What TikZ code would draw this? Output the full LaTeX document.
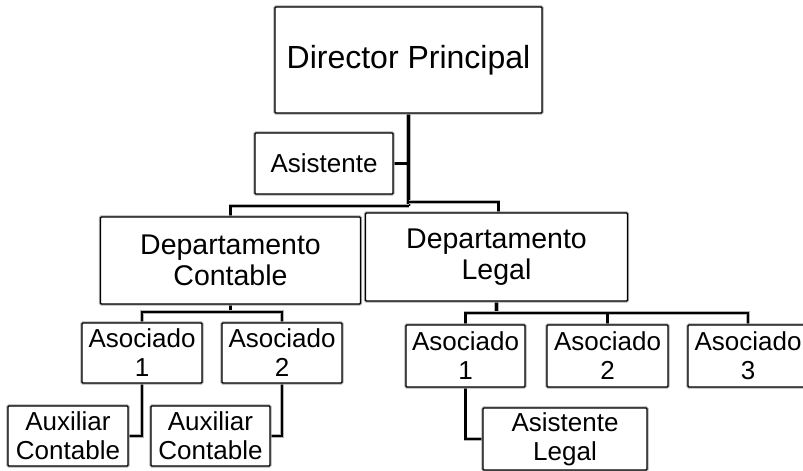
\documentclass[tikz,border=0pt]{standalone}
\usepackage{fontspec}
\setmainfont{Liberation Sans}
\usetikzlibrary{backgrounds}
\tikzset{
  box/.style={draw=black, line width=1.2pt, fill=white, rounded corners=1pt,
    align=center, inner sep=0pt, font=\fontsize{26}{29}\selectfont,
    preaction={draw=gray!65, line width=3.2pt}},
  conn/.style={draw=black, line width=2.1pt, preaction={draw=gray!60, line width=3.3pt}},
  trunk/.style={draw=black, line width=3.2pt, preaction={draw=gray!60, line width=4.2pt}},
  dept/.style={font=\fontsize{28.5}{31}\selectfont},
}
\begin{document}
\begin{tikzpicture}[x=1pt,y=-1pt]
\useasboundingbox (0,0) rectangle (803,471);
% boxes
\node[box, minimum width=267pt, minimum height=106pt, font=\fontsize{32}{38}\selectfont] (dir) at (408.5,60) {Director Principal};
\node[box, minimum width=138pt, minimum height=61pt] (asis) at (324,163.5) {Asistente};
\node[box, dept, minimum width=260pt, minimum height=87pt] (dc) at (230.5,260.5) {Departamento\\Contable};
\node[box, dept, minimum width=262pt, minimum height=88pt] (dl) at (496.5,257) {Departamento\\Legal};
\node[box, minimum width=120pt, minimum height=60pt] (ac1) at (142,353) {Asociado\\1};
\node[box, minimum width=120pt, minimum height=60pt] (ac2) at (282,353) {Asociado\\2};
\node[box, minimum width=120pt, minimum height=60pt] (ax1) at (68,436) {Auxiliar\\Contable};
\node[box, minimum width=119pt, minimum height=60pt] (ax2) at (210.5,436) {Auxiliar\\Contable};
\node[box, minimum width=119pt, minimum height=62pt] (al1) at (465.5,356) {Asociado\\1};
\node[box, minimum width=121pt, minimum height=62pt] (al2) at (607.5,356) {Asociado\\2};
\node[box, minimum width=120pt, minimum height=62pt] (al3) at (748,356) {Asociado\\3};
\node[box, minimum width=164pt, minimum height=62pt] (all) at (565,439) {Asistente\\Legal};
% connectors
\begin{scope}[on background layer]
\draw[trunk] (dir.south) -- (dir.south |- 0,206);
\draw[conn] (asis.east) -- (asis.east -| dir.south);
\draw[conn] (dir.south |- 0,206) -| (dc.north);
\draw[conn] (dir.south |- 0,202) -| ([xshift=2pt]dl.north);
\draw[conn] (dc.south) -- (dc.south |- 0,312);
\draw[conn] (ac1.north) |- (ac2.north |- 0,312) -- (ac2.north);
\draw[trunk] (dl.south) -- (dl.south |- 0,313);
\draw[conn] (al1.north) |- (al3.north |- 0,313) -- (al3.north);
\draw[conn] (al2.north) -- (al2.north |- 0,313);
\draw[conn] (ac1.south) |- (ax1.east);
\draw[conn] (ac2.south) |- (ax2.east);
\draw[conn] (al1.south) |- (all.west);
\end{scope}
\end{tikzpicture}
\end{document}
